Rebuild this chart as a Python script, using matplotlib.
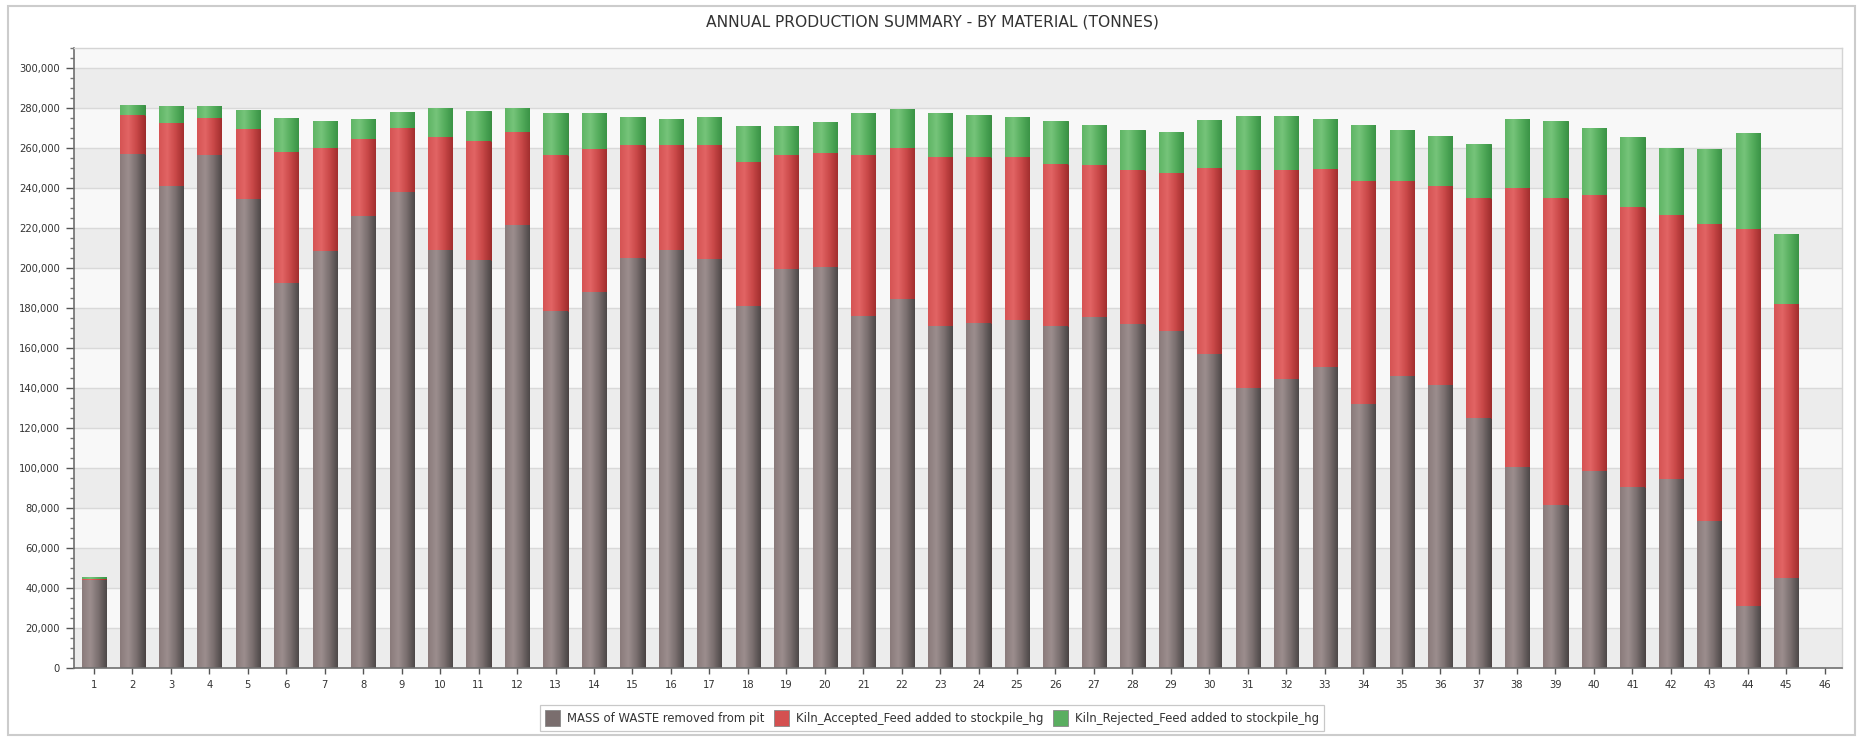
import numpy as np
import matplotlib
matplotlib.use("Agg")
import matplotlib.pyplot as plt
from matplotlib.colors import LinearSegmentedColormap
from matplotlib.patches import Patch, Rectangle
from matplotlib.ticker import FuncFormatter, MultipleLocator

# ---------------- data (tonnes) ----------------
years = list(range(1, 46))
waste = [43900, 257100, 241200, 256500, 234300, 192400, 208600, 225900, 237800, 209200,
         204100, 221400, 178600, 188200, 205100, 209000, 204500, 181000, 199600, 200400,
         176100, 184700, 171000, 172400, 173900, 170800, 175500, 172000, 168400, 156900,
         139800, 144300, 150600, 131900, 145900, 141600, 125100, 100500, 81600, 98600,
         90500, 94600, 73300, 31200, 45200]
accepted_top = [44700, 276300, 272400, 275100, 269400, 258200, 259800, 264700, 270000, 265300,
                263700, 268000, 256700, 259600, 261600, 261600, 261600, 253100, 256500, 257600,
                256300, 260200, 255700, 255700, 255300, 252000, 251400, 249200, 247600, 249800,
                248800, 249200, 249300, 243500, 243500, 241100, 234800, 240000, 235200, 236400,
                230500, 226500, 222000, 219600, 182000]
total_top = [45300, 281600, 281000, 281000, 279000, 274900, 273500, 274500, 278200, 280000,
             278600, 280000, 277300, 277300, 275500, 274700, 275500, 270800, 270800, 272900,
             277300, 279600, 277300, 276700, 275500, 273500, 271400, 268800, 268000, 274100,
             276100, 276100, 274500, 271600, 268800, 266200, 261900, 274700, 273500, 270200,
             265500, 260000, 259600, 267600, 217000]
accepted = [a - w for a, w in zip(accepted_top, waste)]
rejected = [t - a for t, a in zip(total_top, accepted_top)]

x_ticks = list(range(1, 47))
series_names = ["MASS of WASTE removed from pit",
                "Kiln_Accepted_Feed added to stockpile_hg",
                "Kiln_Rejected_Feed added to stockpile_hg"]
title = "ANNUAL PRODUCTION SUMMARY - BY MATERIAL (TONNES)"

# ---------------- styling ----------------
W, H = 1864, 741
fig = plt.figure(figsize=(W / 100, H / 100), dpi=100)
fig.patch.set_facecolor("white")

L, R, T, B = 74, 1842, 48, 668
ax = fig.add_axes([L / W, 1 - B / H, (R - L) / W, (B - T) / H])
ax.set_facecolor("#f6f6f6")

ymax = 310000
xlim = (0.48, 46.45)

# background bands
for i, y0 in enumerate(range(0, ymax, 20000)):
    col = "#ececec" if i % 2 == 0 else "#f8f8f8"
    ax.axhspan(y0, min(y0 + 20000, ymax), color=col, zorder=0, lw=0)
ax.yaxis.grid(True, color="#d9d9d9", lw=1.0, zorder=0.5)
ax.set_axisbelow(True)

cmaps = [
    LinearSegmentedColormap.from_list("w", ["#8a7b7b", "#9c8e8e", "#7a6f6f", "#4d4848"]),
    LinearSegmentedColormap.from_list("r", ["#d55454", "#e26464", "#c94848", "#a22e2e"]),
    LinearSegmentedColormap.from_list("g", ["#5fb565", "#76c47a", "#55ad5d", "#3a9446"]),
]
edges = ["#4a4040", "#9a2a2a", "#3a8a40"]
face = ["#7a6e6e", "#d45050", "#5aae60"]

grad = np.linspace(0, 1, 64).reshape(1, -1)
bw = 0.63
bottom = np.zeros(len(years))
for vals, cm, ec, fc in zip([waste, accepted, rejected], cmaps, edges, face):
    vals = np.array(vals, dtype=float)
    bars = ax.bar(years, vals, width=bw, bottom=bottom, color=fc, edgecolor=ec,
                  linewidth=0.7, zorder=2)
    for rect in bars:
        x0, y0 = rect.get_x(), rect.get_y()
        w, h = rect.get_width(), rect.get_height()
        if h <= 0:
            continue
        im = ax.imshow(grad, extent=[x0, x0 + w, y0, y0 + h], aspect="auto",
                       cmap=cm, interpolation="bilinear", zorder=2.5)
        im.set_clip_path(rect)
    bottom = bottom + vals

ax.set_xlim(*xlim)
ax.set_ylim(0, ymax)

ax.set_xticks(x_ticks)
ax.set_xticklabels([str(v) for v in x_ticks])
ax.yaxis.set_major_locator(MultipleLocator(20000))
ax.yaxis.set_minor_locator(MultipleLocator(5000))
ax.yaxis.set_major_formatter(FuncFormatter(lambda v, p: f"{int(v):,}"))
ax.tick_params(axis="both", labelsize=7.2, colors="#555555", labelcolor="#333333")
ax.tick_params(axis="y", which="major", length=6, width=1, direction="out", pad=4)
ax.tick_params(axis="y", which="minor", length=3, width=1, direction="out", colors="#777777")
ax.tick_params(axis="x", which="major", length=4, width=1, direction="out", pad=5)

for s in ["left", "bottom"]:
    ax.spines[s].set_color("#6f6f6f")
    ax.spines[s].set_linewidth(1.2)
for s in ["top", "right"]:
    ax.spines[s].set_color("#d4d4d4")
    ax.spines[s].set_linewidth(1.0)

fig.text(0.5, 1 - 22 / H, title, ha="center", va="center", fontsize=11.2,
         color="#333333", family="DejaVu Sans")

handles = [Patch(facecolor=c, edgecolor="#888888", linewidth=0.6) for c in face]
leg = fig.legend(handles, series_names, loc="center", ncol=3,
                 bbox_to_anchor=(932 / W, 1 - 718 / H), fontsize=8.4,
                 frameon=True, fancybox=False, edgecolor="#bbbbbb",
                 handlelength=1.3, handleheight=1.7, handletextpad=0.6,
                 columnspacing=0.8, borderpad=0.4)
leg.get_frame().set_linewidth(0.9)
for t in leg.get_texts():
    t.set_color("#333333")

fig.patches.append(Rectangle((8 / W, 6 / H), (1855 - 8) / W, (735 - 6) / H,
                             transform=fig.transFigure, fill=False,
                             edgecolor="#cccccc", lw=1.5))

fig.savefig("out.png", dpi=100)
